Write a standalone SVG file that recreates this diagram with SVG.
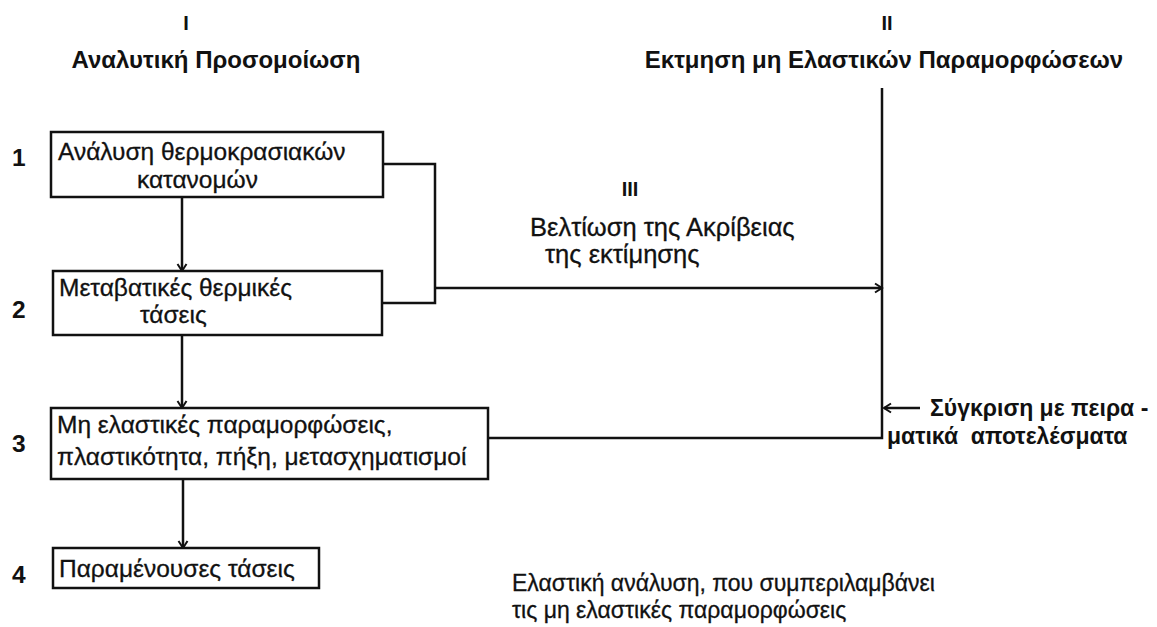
<svg xmlns="http://www.w3.org/2000/svg" width="1157" height="627" viewBox="0 0 1157 627">
<style>
.box{fill:#fff;stroke:#111;stroke-width:2.5}
.ln{fill:none;stroke:#111;stroke-width:2.5}
.t{font-family:"Liberation Sans",Arial,sans-serif;font-size:24.5px;fill:#111;stroke:#111;stroke-width:0.3}
.b{font-weight:bold;stroke-width:0}
.h{font-family:"Liberation Sans",Arial,sans-serif;font-weight:bold;fill:#111}
</style>
<defs>
<marker id="ah" markerWidth="12" markerHeight="12" refX="10" refY="6" orient="auto" markerUnits="userSpaceOnUse">
<path d="M3,1.5 L10,6 L3,10.5" fill="none" stroke="#111" stroke-width="2"/>
</marker>
</defs>
<rect width="1157" height="627" fill="#fff"/>

<g id="heading-1">
<text class="h" x="186" y="30" text-anchor="middle" font-size="20">I</text>
<text class="h" x="216" y="68" text-anchor="middle" font-size="24">Αναλυτική Προσομοίωση</text>
</g>
<g id="heading-2">
<text class="h" x="887" y="30" text-anchor="middle" font-size="20">II</text>
<text class="h" x="884" y="68" text-anchor="middle" font-size="24">Εκτμηση μη Ελαστικών Παραμορφώσεων</text>
</g>
<g id="heading-3">
<text class="h" x="630" y="196" text-anchor="middle" font-size="20">III</text>
<text class="t" x="530" y="236" style="font-size:25.5px">Βελτίωση της Ακρίβειας</text>
<text class="t" x="545" y="263" style="font-size:25.5px">της εκτίμησης</text>
</g>

<g id="step-numbers" class="t b">
<text x="12" y="166">1</text>
<text x="12" y="318">2</text>
<text x="12" y="452">3</text>
<text x="12" y="583">4</text>
</g>

<g id="connectors">
<path class="ln" d="M383,164 H435 V303 H382"/>
<path class="ln" d="M435,288 H882" marker-end="url(#ah)"/>
<path class="ln" d="M882,88 V438 H488"/>
<path class="ln" d="M182,197 V271" marker-end="url(#ah)"/>
<path class="ln" d="M182,335 V408" marker-end="url(#ah)"/>
<path class="ln" d="M183,479 V548" marker-end="url(#ah)"/>
<path class="ln" d="M920,408 H884" marker-end="url(#ah)"/>
</g>

<g id="box-1">
<rect class="box" x="51" y="132" width="332" height="65"/>
<text class="t" x="58" y="160">Ανάλυση θερμοκρασιακών</text>
<text class="t" x="137" y="188">κατανομών</text>
</g>
<g id="box-2">
<rect class="box" x="53" y="271" width="329" height="64"/>
<text class="t" x="59" y="296">Μεταβατικές θερμικές</text>
<text class="t" x="140" y="323">τάσεις</text>
</g>
<g id="box-3">
<rect class="box" x="51" y="408" width="437" height="71"/>
<text class="t" x="57" y="433">Μη ελαστικές παραμορφώσεις,</text>
<text class="t" x="57" y="465">πλαστικότητα, πήξη, μετασχηματισμοί</text>
</g>
<g id="box-4">
<rect class="box" x="53" y="548" width="266" height="40"/>
<text class="t" x="59" y="577">Παραμένουσες τάσεις</text>
</g>

<g id="compare-label">
<text class="h" x="930" y="416" font-size="23">Σύγκριση με πειρα -</text>
<text class="h" x="887" y="444" font-size="23" xml:space="preserve">ματικά  αποτελέσματα</text>
</g>
<g id="elastic-note">
<text class="t" x="512" y="591" style="font-size:23px">Ελαστική ανάλυση, που συμπεριλαμβάνει</text>
<text class="t" x="512" y="618" style="font-size:23px">τις μη ελαστικές παραμορφώσεις</text>
</g>
</svg>
